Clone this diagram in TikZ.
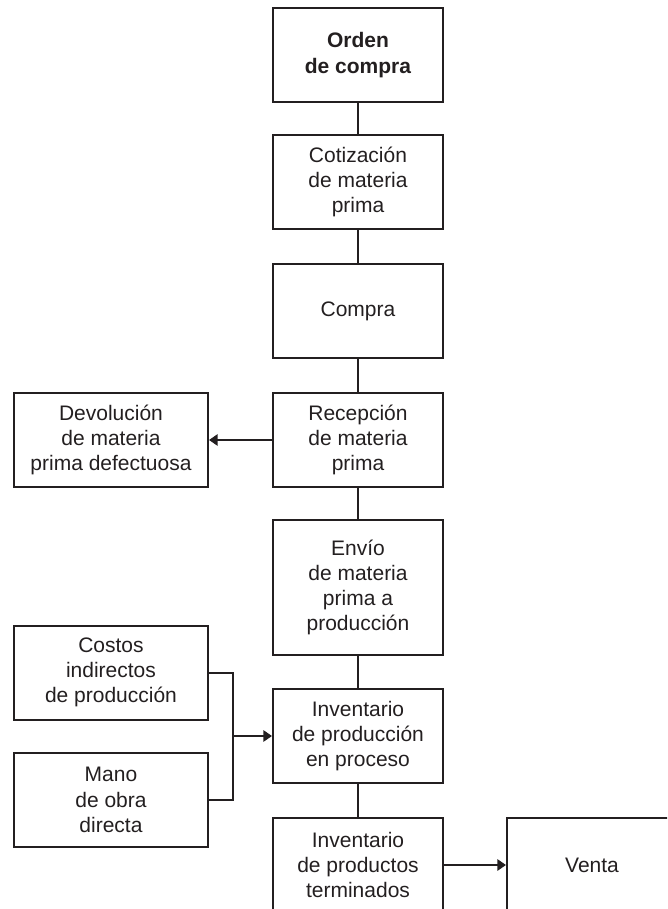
\documentclass[tikz,border=0pt]{standalone}
\usepackage{fontspec}
\setmainfont{Liberation Sans}
\usetikzlibrary{arrows.meta}
\usetikzlibrary{positioning}
\definecolor{ink}{HTML}{231F20}

\tikzset{
  box/.style={draw=ink, line width=1.5pt, text=ink, align=center,
    minimum width=127.5pt, minimum height=70.5pt, inner sep=0pt,
    font=\fontsize{15.75}{18.9}\selectfont},
  link/.style={draw=ink, line width=1.5pt},
}

\begin{document}
\begin{tikzpicture}[x=0.75pt,y=-0.75pt,>={Triangle[length=6.5pt,width=8.5pt]}]
    \clip (0,0) rectangle (667,909);

    \node[box] (orden) at (358,55) {\textbf{Orden}\\\textbf{de compra}};
    \node[box] (cotiz) at (358,182) {Cotización\\de materia\\prima};
    \node[box] (compra) at (358,311) {Compra};
    \node[box] (recep) at (358,440) {Recepción\\de materia\\prima};
    \node[box, minimum width=145.5pt] (devol) at (111,440) {Devolución\\de materia\\prima defectuosa};
    \node[box, minimum height=101.25pt] (envio) at (358,587.5) {Envío\\de materia\\prima a\\producción};
    \node[box, minimum width=145.5pt] (costos) at (111,672.5) {Costos\\indirectos\\de producción};
    \node[box, minimum width=145.5pt] (mano) at (111,800) {Mano\\de obra\\directa};
    \node[box] (invproc) at (358,736) {Inventario\\de producción\\en proceso};
    \node[box] (invprod) at (358,865) {Inventario\\de productos\\terminados};
    \node[box] (venta) at (592,865) {Venta};
    \coordinate (join) at (233,736);

    \draw[link] (orden) -- (cotiz);
    \draw[link] (cotiz) -- (compra);
    \draw[link] (compra) -- (recep);
    \draw[link,->] (recep) -- (devol);
    \draw[link] (recep) -- (envio);
    \draw[link] (envio) -- (invproc);
    \draw[link] (costos.east) -| (join);
    \draw[link] (mano.east) -| (join);
    \draw[link,->] (join) -- (invproc);
    \draw[link] (invproc) -- (invprod);
    \draw[link,->] (invprod) -- (venta);
  \end{tikzpicture}
\end{document}
